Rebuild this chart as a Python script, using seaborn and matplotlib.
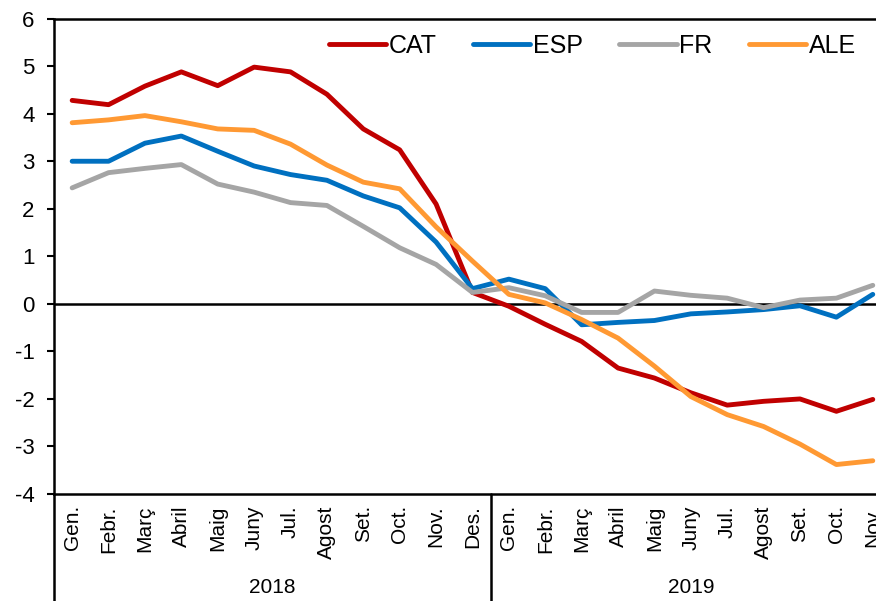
import pandas as pd
import matplotlib
matplotlib.use('Agg')
import matplotlib.pyplot as plt
import matplotlib.transforms as mtransforms
from matplotlib.lines import Line2D
import seaborn as sns

# Month labels (two years) and year groups
months = ['Gen.', 'Febr.', 'Març', 'Abril', 'Maig', 'Juny', 'Jul.', 'Agost', 'Set.', 'Oct.', 'Nov.', 'Des.',
          'Gen.', 'Febr.', 'Març', 'Abril', 'Maig', 'Juny', 'Jul.', 'Agost', 'Set.', 'Oct.', 'Nov.']
years = ['2018', '2019']
months_per_year = [12, 11]

# Series values
cat = [4.28, 4.19, 4.58, 4.88, 4.59, 4.98, 4.88, 4.41, 3.68, 3.24, 2.10, 0.24,
       -0.05, -0.43, -0.79, -1.35, -1.56, -1.87, -2.13, -2.05, -2.00, -2.26, -2.01]
esp = [3.00, 3.00, 3.38, 3.53, 3.21, 2.90, 2.72, 2.60, 2.27, 2.02, 1.30, 0.32,
       0.52, 0.32, -0.44, -0.39, -0.35, -0.21, -0.17, -0.12, -0.04, -0.28, 0.20]
fr = [2.44, 2.76, 2.85, 2.93, 2.52, 2.35, 2.13, 2.07, 1.63, 1.18, 0.83, 0.24,
      0.34, 0.17, -0.18, -0.18, 0.27, 0.18, 0.12, -0.08, 0.08, 0.12, 0.39]
ale = [3.81, 3.87, 3.96, 3.83, 3.68, 3.65, 3.36, 2.92, 2.56, 2.42, 1.62, 0.90,
       0.20, 0.02, -0.33, -0.72, -1.31, -1.95, -2.33, -2.58, -2.95, -3.38, -3.30]

series = {'CAT': cat, 'ESP': esp, 'FR': fr, 'ALE': ale}
colors = {'CAT': '#C00000', 'ESP': '#0070C0', 'FR': '#A5A5A5', 'ALE': '#FF9933'}

rows = []
for name, vals in series.items():
    for i, v in enumerate(vals):
        rows.append({'idx': i, 'valor': v, 'serie': name})
df = pd.DataFrame(rows)

sns.set_style('white')
plt.rcParams['font.family'] = ['Liberation Sans', 'DejaVu Sans']
plt.rcParams['axes.unicode_minus'] = False
plt.rcParams['text.color'] = 'black'
plt.rcParams['xtick.color'] = 'black'
plt.rcParams['ytick.color'] = 'black'

fig = plt.figure(figsize=(8.76, 6.01), dpi=100)
ax = fig.add_axes([0.0616, 0.178, 0.9555, 0.791])

sns.lineplot(data=df, x='idx', y='valor', hue='serie', palette=colors,
             hue_order=list(series.keys()), linewidth=3.5, sort=False,
             legend=False, ax=ax, solid_capstyle='round', solid_joinstyle='round')

ax.axhline(0, color='black', linewidth=1.8, zorder=1)

ax.set_xlim(-0.5, len(months) - 0.5)
ax.set_ylim(-4, 6)
ax.set_yticks(range(-4, 7))
ax.set_xticks(range(len(months)))
ax.set_xticklabels(months, rotation=90, fontsize=15)
ax.set_xlabel('')
ax.set_ylabel('')
ax.tick_params(axis='y', direction='out', length=5, width=1.5, pad=9, labelsize=16, left=True, color='black')
ax.tick_params(axis='x', length=0, pad=8)

for side in ['left', 'bottom', 'top']:
    ax.spines[side].set_visible(True)
    ax.spines[side].set_color('black')
    ax.spines[side].set_linewidth(1.8)
ax.spines['right'].set_visible(False)

# left axis and year separator continue down past the month labels
trans = mtransforms.blended_transform_factory(ax.transData, ax.transAxes)
fig_bottom = -0.178 / 0.791
sep = months_per_year[0] - 0.5
for xpos in [-0.5, sep]:
    ax.plot([xpos, xpos], [0, fig_bottom], transform=trans, color='black',
            linewidth=1.8, clip_on=False)

# year labels centred under their months
ytrans = mtransforms.blended_transform_factory(ax.transData, fig.transFigure)
start = 0
for year, n in zip(years, months_per_year):
    center = start + (n - 1) / 2
    ax.text(center, 0.022, year, transform=ytrans, ha='center', va='center', fontsize=15)
    start += n

handles = [Line2D([0], [0], color=colors[k], linewidth=3.5, solid_capstyle='round') for k in series]
ax.legend(handles, list(series.keys()), ncol=4, loc='center right',
          bbox_to_anchor=(0.97, 0.942), frameon=False, fontsize=18,
          handlelength=2.3, handletextpad=0.1, columnspacing=1.45, borderaxespad=0)

fig.savefig('out.png', dpi=100)
